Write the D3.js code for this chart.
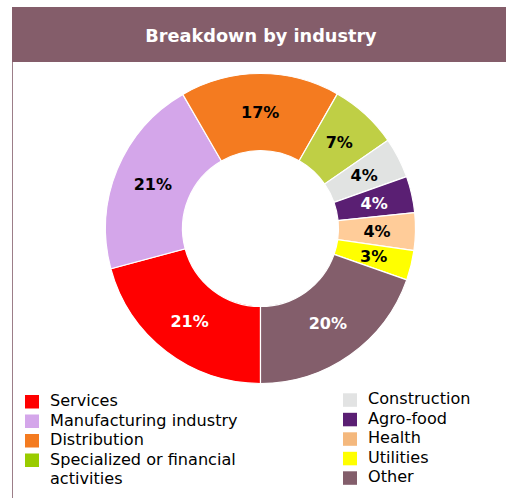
<!DOCTYPE html>
<html>
<head>
<meta charset="utf-8">
<script src="https://cdn.jsdelivr.net/npm/d3@7"></script>
<style>
  body { margin: 0; background: #fff; }
  svg text { font-family: "DejaVu Sans", Verdana, sans-serif; }
</style>
</head>
<body>
<div id="chart"></div>
<script>
// data
var industries = ["Services", "Manufacturing industry", "Distribution", "Specialized or financial activities",
                  "Construction", "Agro-food", "Health", "Utilities", "Other"];
var shares = [20.8, 20.8, 16.6, 7.1, 4.2, 3.8, 3.9, 3.1, 19.6];
var sliceColors = ["#ff0000", "#d4a6ea", "#f47b20", "#bfcf45", "#e1e3e2", "#5a1f73", "#ffcc99", "#ffff00", "#835e6b"];
var legendColors = ["#ff0000", "#d4a6ea", "#f47b20", "#99cc00", "#e2e3e3", "#5a1f73", "#f4b87d", "#ffff00", "#835e6b"];
var labelColors = ["#fff", "#000", "#000", "#000", "#000", "#fff", "#000", "#000", "#fff"];

var W = 506, H = 498;
var svg = d3.select("#chart").append("svg")
    .attr("width", W).attr("height", H);

// header band + left frame line
svg.append("rect")
    .attr("x", 12).attr("y", 7).attr("width", W - 12).attr("height", 55)
    .attr("fill", "#845d6a");
svg.append("line")
    .attr("x1", 12.5).attr("x2", 12.5).attr("y1", 62).attr("y2", H)
    .attr("stroke", "#9c7e88").attr("stroke-width", 1);
svg.append("text")
    .attr("x", 261).attr("y", 41.5)
    .attr("text-anchor", "middle")
    .attr("fill", "#fff")
    .attr("font-weight", "bold")
    .attr("font-size", "17.7px")
    .text("Breakdown by industry");

// donut
var cx = 260.5, cy = 228.5, outerR = 155, innerR = 78;
var data = industries.map(function(d, i) { return {name: d, value: shares[i], i: i}; });

var pie = d3.pie().sort(null)
    .value(function(d) { return d.value; })
    .startAngle(Math.PI).endAngle(3 * Math.PI);
var arc = d3.arc().innerRadius(innerR).outerRadius(outerR);

var g = svg.append("g").attr("transform", "translate(" + cx + "," + cy + ")");
var slices = g.selectAll(".arc").data(pie(data)).enter().append("g").attr("class", "arc");

slices.append("path")
    .attr("d", arc)
    .attr("fill", function(d) { return sliceColors[d.data.i]; })
    .attr("stroke", "#fff")
    .attr("stroke-width", 1.2);

slices.append("text")
    .attr("transform", function(d) { return "translate(" + arc.centroid(d) + ")"; })
    .attr("dy", "0.36em")
    .attr("text-anchor", "middle")
    .attr("font-weight", "bold")
    .attr("font-size", "16px")
    .attr("fill", function(d) { return labelColors[d.data.i]; })
    .text(function(d) { return Math.round(d.data.value) + "%"; });

// legend, two columns
var leftItems = [0, 1, 2, 3], rightItems = [4, 5, 6, 7, 8];
var rowStep = 19.5;

function legendColumn(items, x0, y0) {
  var rows = svg.append("g").selectAll("g").data(items).enter().append("g")
      .attr("transform", function(d, k) { return "translate(" + x0 + "," + (y0 + k * rowStep) + ")"; });
  rows.append("rect")
      .attr("x", 0).attr("y", 0).attr("width", 14).attr("height", 13.5)
      .attr("fill", function(d) { return legendColors[d]; });
  rows.each(function(d) {
    var t = d3.select(this).append("text")
        .attr("x", 25).attr("y", 11)
        .attr("font-size", "16.1px")
        .attr("fill", "#000");
    var name = industries[d];
    if (name === "Specialized or financial activities") {
      t.append("tspan").attr("x", 25).text("Specialized or financial");
      t.append("tspan").attr("x", 25).attr("dy", rowStep).text("activities");
    } else {
      t.text(name);
    }
  });
}
legendColumn(leftItems, 25, 395);
legendColumn(rightItems, 343, 393.3);
</script>
</body>
</html>
